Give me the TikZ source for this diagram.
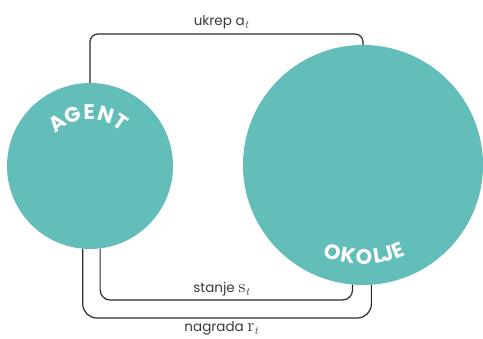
\documentclass[tikz,border=0pt]{standalone}
\usepackage{fontspec}
\setmainfont{Poppins}
\newfontfamily\varfont{lmroman10-regular.otf}
\newfontfamily\varitfont{lmroman10-italic.otf}
\definecolor{teal}{HTML}{63BDB8}
\definecolor{ink}{HTML}{2B2B2B}
\definecolor{labelgray}{HTML}{3A3A3A}
% time index set as a lowered italic t
\newcommand{\tindex}{\raisebox{-2.5pt}{\varitfont\fontsize{11}{11}\selectfont t}}
% a variable with its time index
\newcommand{\tvar}[1]{{\varfont\fontsize{18}{18}\selectfont #1}\tindex}
\begin{document}
\begin{tikzpicture}[x=1pt,y=1pt,
  world/.style={circle, fill=teal, inner sep=0pt},
  link/.style={draw=ink, line width=1.2pt},
  lbl/.style={text=labelgray, font=\fontsize{13.5}{15}\selectfont, inner sep=2pt},
  badge/.style={text=white, font=\fontsize{21}{24}\selectfont\bfseries, inner sep=0pt}]
  \useasboundingbox (0,0) rectangle (483,339);

  % the two actors
  \node[world, minimum size=166pt] (agent) at (90,173) {};
  \node[world, minimum size=240pt] (okolje) at (363,174) {};

  % action: from the agent up and over to the environment
  \draw[link, rounded corners=8pt]
    (agent.north) -- (agent.north |- 0,305) -| (okolje.north)
    node[lbl, pos=0.24, above=2pt] {ukrep a\tindex};

  % state: inner loop back to the agent
  \draw[link, rounded corners=10pt]
    (okolje.265.7) -- (okolje.265.7 |- 0,39) -| (agent.277.6)
    node[lbl, pos=0.26, above=1pt] {stanje \tvar{s}};

  % reward: outer loop back to the agent
  \draw[link, rounded corners=14pt]
    (okolje.274.8) -- (okolje.274.8 |- 0,21) -| (agent.265.2)
    node[lbl, pos=0.26, below=1pt] {nagrada \tvar{r}};

  % curved titles
  \foreach \l/\a in {A/127,G/109,E/91,N/73,T/55}
    \node[badge, rotate=\a-90] at ([shift={(\a:54)}]agent.center) {\l};
  \foreach \l/\a in {O/250.7,K/260.6,O/270.6,L/279.4,J/285.2,E/292.2}
    \node[badge, rotate=\a-270] at ([shift={(\a:92)}]okolje.center) {\l};
\end{tikzpicture}
\end{document}
